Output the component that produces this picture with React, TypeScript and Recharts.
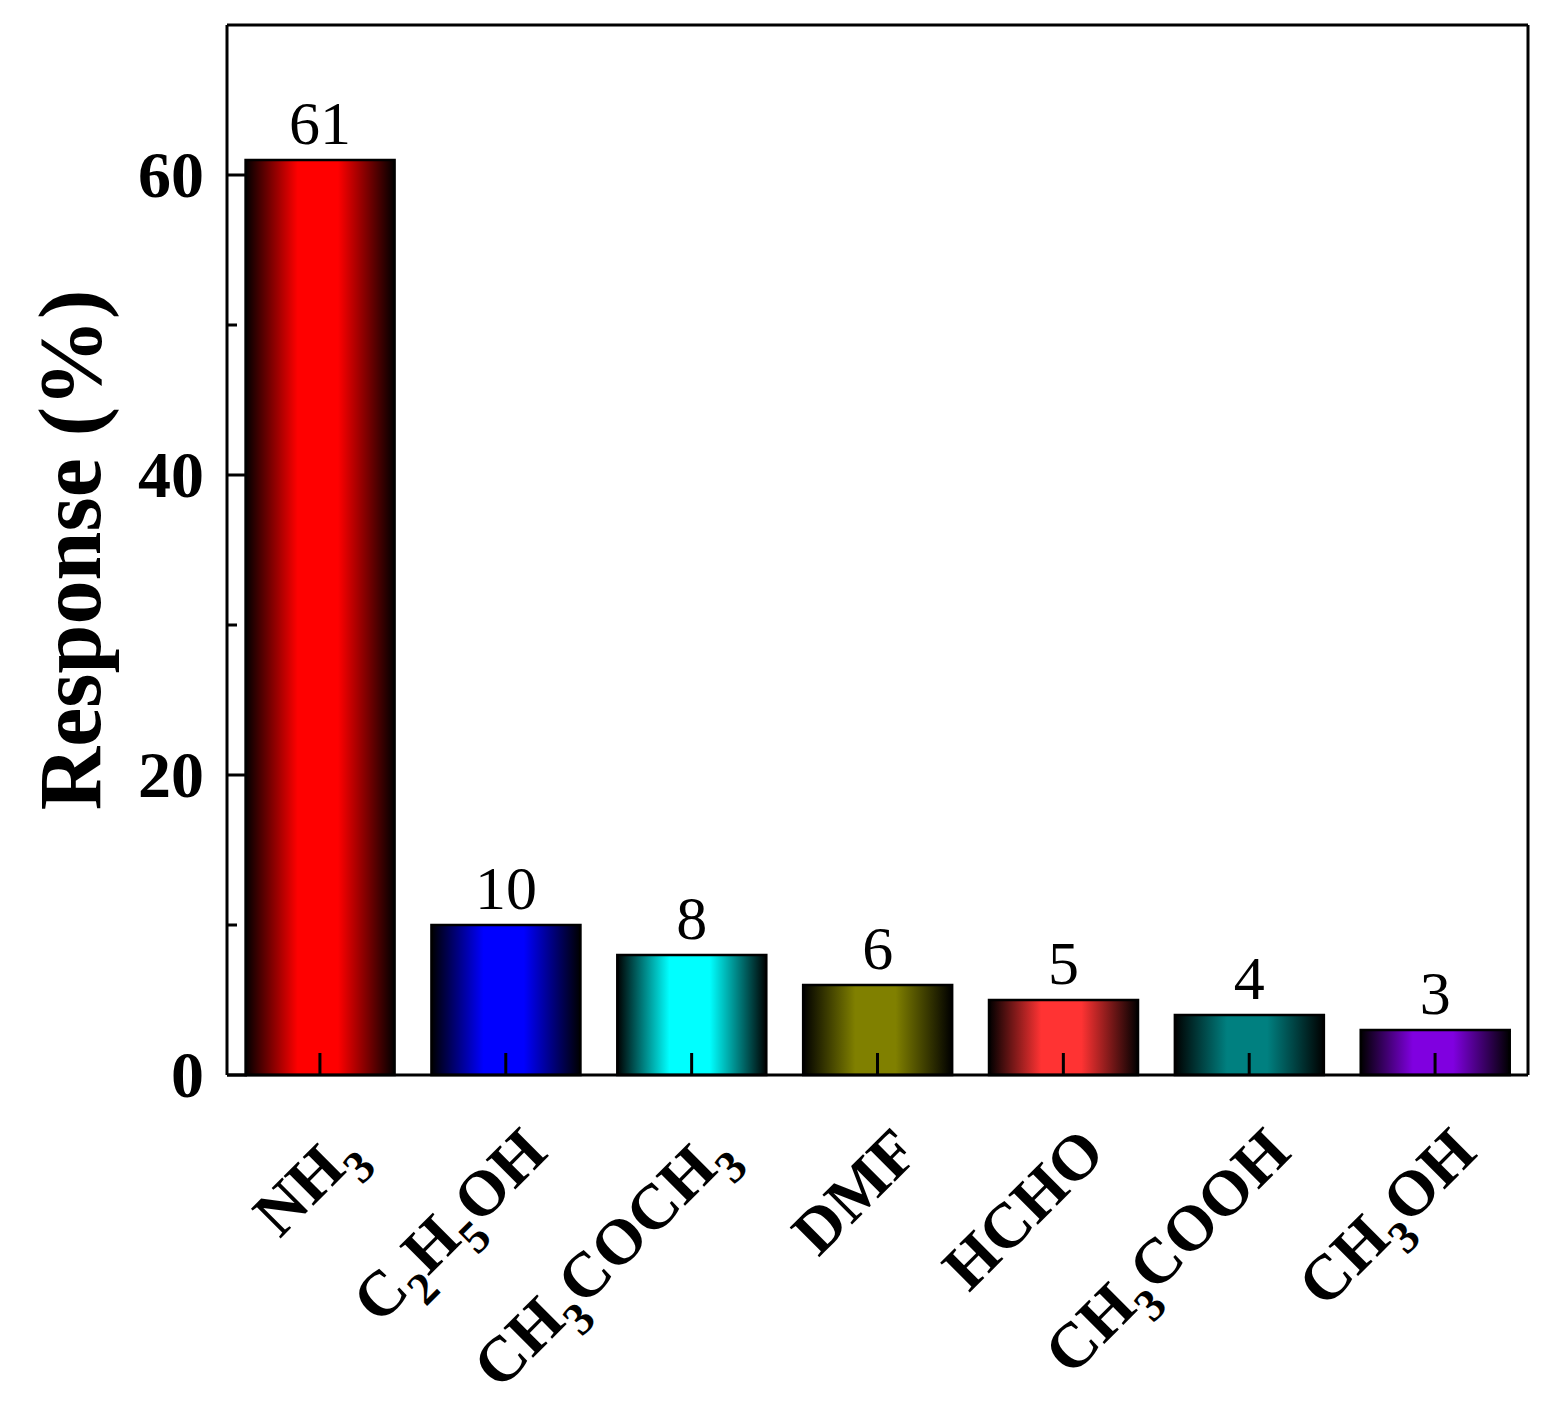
import { Bar, BarChart, Cell, LabelList, XAxis, YAxis } from "recharts";

const gases = ["NH3", "C2H5OH", "CH3COCH3", "DMF", "HCHO", "CH3COOH", "CH3OH"];
const responses = [61, 10, 8, 6, 5, 4, 3];
const barColors = ["#ff0000", "#0000ff", "#00ffff", "#808000", "#ff3333", "#008080", "#8000e0"];
const yTicks = [0, 10, 20, 30, 40, 50, 60];
const yLabelTicks = [0, 20, 40, 60];

const FONT = "'Liberation Serif', 'Times New Roman', serif";

const data = gases.map((name, i) => ({ name, value: responses[i] }));

// split "C2H5OH" into normal + subscript pieces
function formulaParts(s: string) {
  const parts: { t: string; sub: boolean }[] = [];
  for (const ch of s) {
    const sub = /[0-9]/.test(ch);
    const last = parts[parts.length - 1];
    if (last && last.sub === sub) last.t += ch;
    else parts.push({ t: ch, sub });
  }
  return parts;
}

function GasTick(props: any) {
  const { x, y, payload } = props;
  const parts = formulaParts(String(payload.value));
  let shift = 0;
  return (
    <g>
      <line x1={x} y1={y} x2={x} y2={y - 22} stroke="#000" strokeWidth={3} />
      <text
        transform={`translate(${x + 44},${y + 80}) rotate(-45)`}
        textAnchor="end"
        fontFamily={FONT}
        fontWeight="bold"
        fontSize={64}
        fill="#000"
      >
        {parts.map((p, i) => {
          const target = p.sub ? 20 : 0;
          const dy = target - shift;
          shift = target;
          return (
            <tspan key={i} dy={dy} fontSize={p.sub ? 46 : 64}>
              {p.t}
            </tspan>
          );
        })}
      </text>
    </g>
  );
}

function ResponseTick(props: any) {
  const { x, y, payload } = props;
  const major = yLabelTicks.includes(payload.value);
  return (
    <g>
      <line x1={x} y1={y} x2={x + (major ? 20 : 10)} y2={y} stroke="#000" strokeWidth={3} />
      {major && (
        <text
          x={x - 23}
          y={y}
          dy="0.34em"
          textAnchor="end"
          fontFamily={FONT}
          fontWeight="bold"
          fontSize={66}
          fill="#000"
        >
          {payload.value}
        </text>
      )}
    </g>
  );
}

function YTitle(props: any) {
  const vb = props.viewBox;
  const cy = vb.y + vb.height / 2;
  return (
    <text
      transform={`translate(100,${cy}) rotate(-90)`}
      textAnchor="middle"
      fontFamily={FONT}
      fontWeight="bold"
      fontSize={88}
      fill="#000"
    >
      Response (%)
    </text>
  );
}

export default function App() {
  return (
    <div style={{ position: "absolute", left: 0, top: 0, background: "#fff" }}>
      <BarChart
        width={1554}
        height={1401}
        data={data}
        margin={{ top: 24, right: 25, bottom: 0, left: 0 }}
        barCategoryGap="10%"
      >
        <defs>
          {barColors.map((c, i) => (
            <linearGradient key={i} id={`barGrad${i}`} x1="0" y1="0" x2="1" y2="0">
              <stop offset="0%" stopColor="#000" />
              <stop offset="35%" stopColor={c} />
              <stop offset="62%" stopColor={c} />
              <stop offset="100%" stopColor="#000" />
            </linearGradient>
          ))}
        </defs>
        <XAxis
          dataKey="name"
          height={326}
          tickSize={0}
          tickMargin={0}
          tickLine={false}
          axisLine={{ stroke: "#000", strokeWidth: 3 }}
          tick={<GasTick />}
          interval={0}
        />
        <XAxis
          xAxisId="top"
          orientation="top"
          dataKey="name"
          height={1}
          tick={false}
          tickLine={false}
          axisLine={{ stroke: "#000", strokeWidth: 3 }}
        />
        <YAxis
          width={227}
          domain={[0, 70]}
          ticks={yTicks}
          tickSize={0}
          tickMargin={0}
          tickLine={false}
          axisLine={{ stroke: "#000", strokeWidth: 3 }}
          tick={<ResponseTick />}
          label={<YTitle />}
        />
        <YAxis
          yAxisId="right"
          orientation="right"
          width={1}
          domain={[0, 70]}
          tick={false}
          tickLine={false}
          axisLine={{ stroke: "#000", strokeWidth: 3 }}
        />
        <Bar dataKey="value" stroke="#000" strokeWidth={2.5} isAnimationActive={false}>
          {data.map((d, i) => (
            <Cell key={d.name} fill={`url(#barGrad${i})`} />
          ))}
          <LabelList
            dataKey="value"
            position="top"
            offset={16}
            fontFamily={FONT}
            fontSize={62}
            fill="#000"
          />
        </Bar>
        <Bar
          dataKey="value"
          xAxisId="top"
          yAxisId="right"
          fill="none"
          stroke="none"
          legendType="none"
          isAnimationActive={false}
        />
      </BarChart>
    </div>
  );
}
